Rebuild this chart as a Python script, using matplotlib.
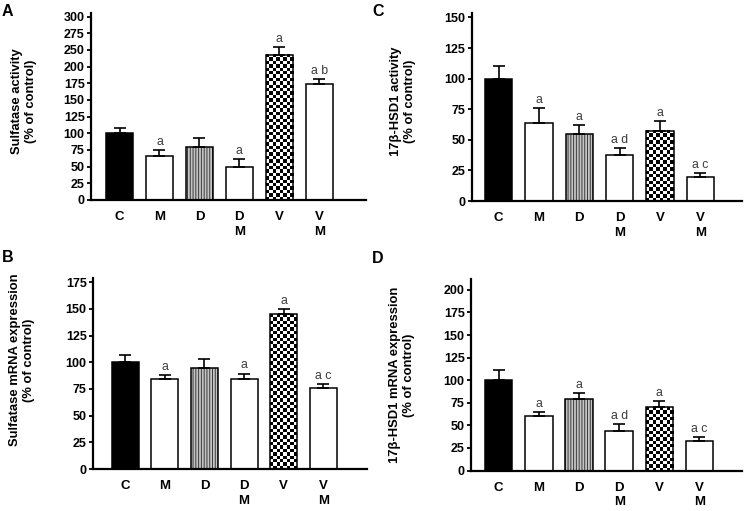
import numpy as np
import matplotlib
matplotlib.use("Agg")
import matplotlib.pyplot as plt

plt.rcParams['font.family'] = ['Liberation Sans', 'DejaVu Sans']
plt.rcParams['hatch.linewidth'] = 0.7

# dane
groups = ["C", "M", "D", "D\nM", "V", "V\nM"]

sulf_act = [100, 66, 80, 50, 218, 174]
sulf_act_err = [8.5, 9, 12.5, 11.5, 12, 7.5]
sulf_act_sig = ["", "a", "", "a", "a", "a b"]

sulf_mrna = [100, 84, 95, 84, 145, 75.5]
sulf_mrna_err = [6.5, 4, 8, 5.5, 5, 4.5]
sulf_mrna_sig = ["", "a", "", "a", "a", "a c"]

hsd_act = [100, 64, 54.5, 37.6, 57.4, 20]
hsd_act_err = [10, 12, 7.5, 6, 8, 3]
hsd_act_sig = ["", "a", "a", "a d", "a", "a c"]

hsd_mrna = [100, 60.7, 79.2, 43.8, 70.7, 32.7]
hsd_mrna_err = [11, 4.2, 7, 8, 6.7, 4.8]
hsd_mrna_sig = ["", "a", "a", "a d", "a", "a c"]

# os A ma przerwe w opisie (brak 225)
ticks_A = list(range(0, 276, 25))
ticklabels_A = [str(t) for t in range(0, 201, 25)] + ["250", "275", "300"]

W, H = 744, 511
fig = plt.figure(figsize=(W / 100, H / 100), dpi=100)


def add_panel(letter, box, values, errs, sig, ylabel, ylim, xlim, yticks, yticklabels, label_xy, letter_xy):
    left, right, top, bottom = box
    ax = fig.add_axes([left / W, 1 - bottom / H, (right - left) / W, (bottom - top) / H])
    x = np.arange(len(values))
    ax.set_xlim(*xlim)
    ax.set_ylim(0, ylim)

    fills = ['black', 'white', '#c4c4c4', 'white', 'white', 'white']
    # paski pionowe dla D
    ax.bar(x[2], values[2], 0.68, facecolor='#c4c4c4', edgecolor='#3a3a3a',
           linewidth=0, hatch='||||||', zorder=1)
    bars = ax.bar(x, values, 0.68, color=fills, edgecolor='black', linewidth=1.1, zorder=2)
    bars[2].set_fill(False)
    bars[4].set_fill(False)

    # szachownica dla V
    b = bars[4]
    ppx = (right - left) / (xlim[1] - xlim[0])
    ppy = (bottom - top) / ylim
    nx = max(1, int(round(b.get_width() * ppx / 3.4)))
    ny = max(1, int(round(b.get_height() * ppy / 3.4)))
    grid = np.indices((ny, nx)).sum(axis=0) % 2
    ax.imshow(grid, cmap='gray', extent=(b.get_x(), b.get_x() + b.get_width(), 0, b.get_height()),
              aspect='auto', interpolation='nearest', zorder=1.5, clip_path=b)
    ax.set_xlim(*xlim)
    ax.set_ylim(0, ylim)

    ax.errorbar(x, values, yerr=[np.zeros(len(errs)), errs], fmt='none', ecolor='black',
                elinewidth=1.2, capsize=4.5, capthick=1.2, zorder=3)
    for xi, v, e, s in zip(x, values, errs, sig):
        if s:
            ax.annotate(s, (xi, v + e), xytext=(0, 1.5), textcoords='offset points',
                        ha='center', va='bottom', fontsize=8.8, color='#3a3a3a')

    ax.set_xticks(x)
    ax.set_xticklabels(groups, fontsize=9.5, fontweight='bold', linespacing=1.3, va='top')
    ax.tick_params(axis='x', length=0, pad=8)
    ax.set_yticks(yticks)
    ax.set_yticklabels(yticklabels, fontsize=9, fontweight='bold')
    ax.tick_params(axis='y', length=3, width=1.3, pad=1.5)

    for s in ['top', 'right']:
        ax.spines[s].set_visible(False)
    ax.spines['left'].set_linewidth(1.6)
    ax.spines['bottom'].set_linewidth(1.6)

    ax.set_ylabel(ylabel, fontsize=9.4, fontweight='bold', linespacing=1.2)
    ax.yaxis.set_label_coords(label_xy[0] / W, 1 - label_xy[1] / H, transform=fig.transFigure)
    fig.text(letter_xy[0] / W, 1 - letter_xy[1] / H, letter, fontsize=11.5, fontweight='bold',
             ha='left', va='top')
    return ax


add_panel("A", (91, 366, 13, 200), sulf_act, sulf_act_err, sulf_act_sig,
          "Sulfatase activity\n(% of control)", 280.5, (-0.714, 6.17),
          ticks_A, ticklabels_A, (37, 101), (2, 4))
add_panel("B", (93, 367, 278, 469), sulf_mrna, sulf_mrna_err, sulf_mrna_sig,
          "Sulfatase mRNA expression\n(% of control)", 179, (-0.81, 6.1),
          list(range(0, 176, 25)), [str(t) for t in range(0, 176, 25)], (35, 360), (2, 250))
add_panel("C", (471.5, 742, 13, 201), hsd_act, hsd_act_err, hsd_act_sig,
          "17β-HSD1 activity\n(% of control)", 153.6, (-0.67, 6.03),
          list(range(0, 151, 25)), [str(t) for t in range(0, 151, 25)], (416, 101), (372, 4))
add_panel("D", (471, 742, 279, 470.5), hsd_mrna, hsd_mrna_err, hsd_mrna_sig,
          "17β-HSD1 mRNA expression\n(% of control)", 212, (-0.69, 6.06),
          list(range(0, 201, 25)), [str(t) for t in range(0, 201, 25)], (415, 375), (372, 251))

fig.savefig("out.png", dpi=100)
